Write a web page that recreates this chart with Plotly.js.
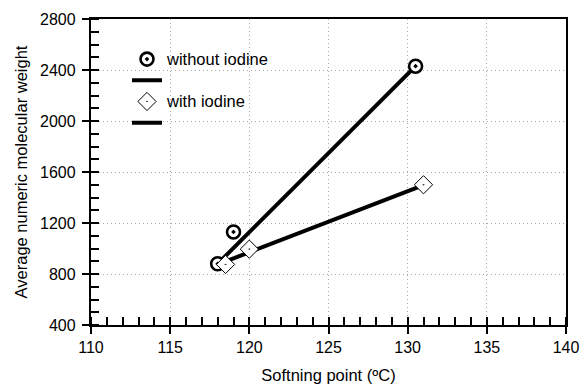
<!DOCTYPE html>
<html>
<head>
<meta charset="utf-8">
<script src="https://cdn.plot.ly/plotly-3.0.1.min.js"></script>
<style>html,body{margin:0;padding:0;background:#fff;}#chart{width:581px;height:387px;}</style>
</head>
<body>
<div id="chart"></div>
<script>
// Data
const withoutX = [118, 119, 130.5];
const withoutY = [880, 1130, 2430];
const withX = [118.5, 120, 131];
const withY = [875, 995, 1500];
// Straight trend lines drawn in the figure (end points)
const withoutLineX = [118, 130.5];
const withoutLineY = [880, 2430];
const withLineX = [117.9, 131];
const withLineY = [870, 1498];
const seriesNames = ['without iodine', 'with iodine'];
const xTitle = 'Softning point (ºC)';
const yTitle = 'Average numeric molecular weight';

const FONT = 'Arial, "Liberation Sans", sans-serif';

const traces = [
  {x: withoutLineX, y: withoutLineY, mode: 'lines', name: ' ', legendrank: 2,
   line: {color: '#000', width: 4}, hoverinfo: 'skip'},
  {x: withLineX, y: withLineY, mode: 'lines', name: ' ', legendrank: 4,
   line: {color: '#000', width: 4}, hoverinfo: 'skip'},
  {x: withoutX, y: withoutY, mode: 'markers', legendrank: 1,
   name: '<span style="font-size:16.5px">' + seriesNames[0] + '</span>',
   marker: {symbol: 'circle-dot', size: 13, color: '#fff', line: {color: '#000', width: 2.6}}},
  {x: withX, y: withY, mode: 'markers', legendrank: 3,
   name: '<span style="font-size:16.5px">' + seriesNames[1] + '</span>',
   marker: {symbol: 'diamond-dot', size: 14, color: '#fff', line: {color: '#000', width: 1}}}
];

const axisCommon = {
  showline: true, linecolor: '#000', linewidth: 2.2, mirror: true,
  ticks: 'outside', ticklen: 7, tickwidth: 2, tickcolor: '#000',
  showgrid: true, gridcolor: '#a8a8a8', griddash: '1px,3px', gridwidth: 1,
  zeroline: false, tickfont: {family: FONT, size: 16, color: '#000'}
};

const layout = {
  width: 581, height: 387,
  margin: {l: 91, r: 15, t: 19, b: 62},
  paper_bgcolor: '#fff', plot_bgcolor: '#fff',
  font: {family: FONT, color: '#000'},
  showlegend: true,
  legend: {x: 0.0758, y: 0.92, xanchor: 'left', yanchor: 'top', bgcolor: 'rgba(0,0,0,0)',
           borderwidth: 0, font: {family: FONT, size: 14, color: '#000'}},
  xaxis: Object.assign({}, axisCommon, {
    range: [110, 140], dtick: 5, tick0: 110,
    minor: {ticks: 'inside', dtick: 1, ticklen: 8, tickwidth: 2, tickcolor: '#000', showgrid: false},
    title: {text: xTitle, font: {family: FONT, size: 16.5, color: '#000'}, standoff: 14}
  }),
  yaxis: Object.assign({}, axisCommon, {
    range: [400, 2800], dtick: 400, tick0: 400, ticklabelstandoff: 3,
    minor: {ticks: 'inside', dtick: 100, ticklen: 8, tickwidth: 2, tickcolor: '#000', showgrid: false},
    title: {text: yTitle, font: {family: FONT, size: 16.5, color: '#000'}, standoff: 8}
  })
};

Plotly.newPlot('chart', traces, layout, {displayModeBar: false, staticPlot: true});
</script>
</body>
</html>
